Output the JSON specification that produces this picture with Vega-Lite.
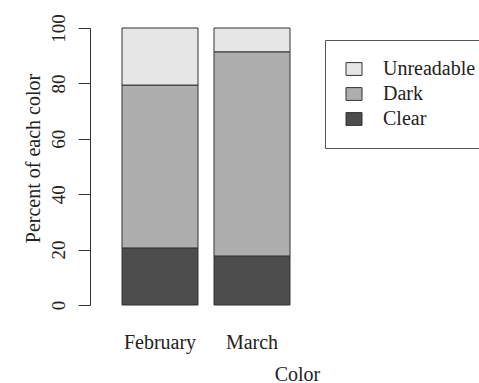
{
  "$schema": "https://vega.github.io/schema/vega-lite/v6.json",
  "width": 232,
  "height": 277,
  "autosize": "none",
  "padding": {"left": 90, "top": 28, "right": 157, "bottom": 78},
  "background": "white",
  "config": {"view": {"stroke": null}, "font": "Liberation Serif"},
  "data": {"values": [
    {"month": "February", "color": "Clear", "percent": 20.6},
    {"month": "February", "color": "Dark", "percent": 58.8},
    {"month": "February", "color": "Unreadable", "percent": 20.6},
    {"month": "March", "color": "Clear", "percent": 17.7},
    {"month": "March", "color": "Dark", "percent": 73.7},
    {"month": "March", "color": "Unreadable", "percent": 8.6}
  ]},
  "mark": {"type": "bar", "stroke": "#333333", "strokeWidth": 1},
  "encoding": {
    "x": {
      "field": "month", "type": "nominal",
      "scale": {"paddingInner": 0.174, "paddingOuter": 0.348},
      "axis": {
        "title": "Color", "titleFont": "Liberation Serif", "titleFontSize": 20, "titleFontWeight": "normal",
        "titleColor": "#222", "titleX": 207, "titleY": 69, "titleAlign": "center", "titleBaseline": "middle",
        "labelAngle": 0, "labelFont": "Liberation Serif", "labelFontSize": 20, "labelColor": "#222",
        "labelPadding": 27, "ticks": false, "tickSize": 0, "domain": false
      }
    },
    "y": {
      "field": "percent", "type": "quantitative", "stack": "zero",
      "scale": {"domain": [0, 100], "nice": false},
      "axis": {
        "title": "Percent of each color", "titleFont": "Liberation Serif", "titleFontSize": 20, "titleFontWeight": "normal",
        "titleColor": "#222", "titleX": -57, "titleY": 130, "titleAngle": 270, "titleAlign": "center", "titleBaseline": "middle",
        "values": [0, 20, 40, 60, 80, 100], "grid": false,
        "labelAngle": 270, "labelAlign": "center", "labelBaseline": "bottom", "labelPadding": 10,
        "labelFont": "Liberation Serif", "labelFontSize": 19, "labelColor": "#222",
        "tickSize": 12, "tickColor": "#333", "domainColor": "#333", "tickWidth": 1, "domainWidth": 1
      }
    },
    "order": {"field": "color", "sort": "ascending"},
    "color": {
      "field": "color", "type": "nominal",
      "scale": {"domain": ["Unreadable", "Dark", "Clear"], "range": ["#E6E6E6", "#AEAEAE", "#4D4D4D"]},
      "legend": {
        "title": null, "orient": "none", "legendX": 235, "legendY": 12,
        "padding": 19, "strokeColor": "#555", "fillColor": "white",
        "symbolType": "M-1,-0.8H1V0.8H-1Z", "symbolSize": 256, "symbolStrokeColor": "#333", "symbolStrokeWidth": 1,
        "symbolOpacity": 1,
        "labelFont": "Liberation Serif", "labelFontSize": 20, "labelColor": "#222", "labelOffset": 19,
        "rowPadding": 5, "labelLimit": 300
      }
    }
  }
}
